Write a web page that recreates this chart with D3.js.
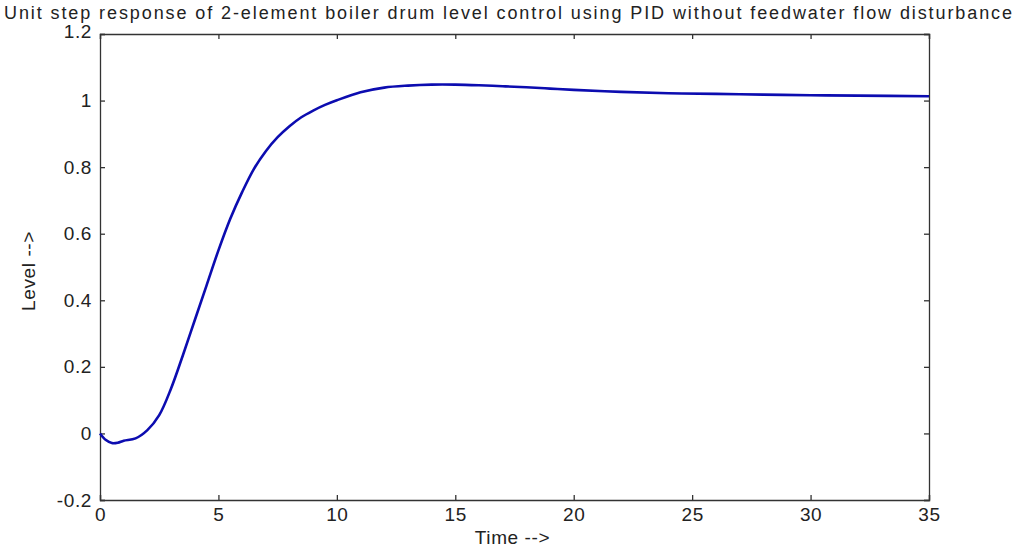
<!DOCTYPE html>
<html>
<head>
<meta charset="utf-8">
<script src="https://cdn.jsdelivr.net/npm/d3@7"></script>
<style>
  body { margin: 0; background: #fff; }
  text { font-family: "Liberation Sans", Arial, sans-serif; fill: #222; }
</style>
</head>
<body>
<div id="chart"></div>
<script>
(function() {
    let w = 1016,
        h = 548;

    let time  = [0, 0.25, 0.5, 0.75, 1, 1.5, 2, 2.5, 3, 3.5, 4, 4.5, 5, 5.5, 6, 6.5, 7, 7.5, 8, 8.5, 9, 9.5, 10, 11, 12, 13, 14, 15, 16, 17, 18, 19, 20, 22, 24, 26, 28, 30, 32, 35];
    let level = [0, -0.02, -0.029, -0.028, -0.022, -0.015, 0.01, 0.055, 0.135, 0.235, 0.34, 0.445, 0.55, 0.645, 0.725, 0.795, 0.848, 0.89, 0.923, 0.95, 0.97, 0.987, 1.001, 1.025, 1.039, 1.045, 1.048, 1.048, 1.046, 1.043, 1.04, 1.036, 1.032, 1.026, 1.022, 1.02, 1.018, 1.016, 1.015, 1.013];
    let xticks = [0, 5, 10, 15, 20, 25, 30, 35];
    let yticks = [-0.2, 0, 0.2, 0.4, 0.6, 0.8, 1, 1.2];

    let m = {left: 100, right: 1016 - 929, top: 34, bottom: 548 - 500};

    let svg = d3.select("#chart")
        .append("svg")
        .attr("width", w)
        .attr("height", h);

    let x = d3.scaleLinear().domain([0, 35]).range([m.left, w - m.right]);
    let y = d3.scaleLinear().domain([-0.2, 1.2]).range([h - m.bottom, m.top]);

    // plain hyphen for the minus sign, like the original
    let fmt = d => String(+d.toFixed(1));

    // axes: ticks point inward, mirrored on top/right
    let axes = [
        {axis: d3.axisBottom(x).tickValues(xticks).tickSize(-5).tickPadding(8).tickFormat(d => String(d)), t: `translate(0,${y(-0.2)})`},
        {axis: d3.axisTop(x).tickValues(xticks).tickSize(-5).tickFormat(""), t: `translate(0,${y(1.2)})`},
        {axis: d3.axisLeft(y).tickValues(yticks).tickSize(-5).tickPadding(8).tickFormat(fmt), t: `translate(${x(0)},0)`},
        {axis: d3.axisRight(y).tickValues(yticks).tickSize(-5).tickFormat(""), t: `translate(${x(35)},0)`}
    ];
    axes.forEach(a => {
        let g = svg.append("g").attr("transform", a.t).call(a.axis);
        g.select(".domain").attr("stroke", "#333").attr("stroke-width", 1.3);
        g.selectAll(".tick line").attr("stroke", "#333").attr("stroke-width", 1.3);
        g.selectAll(".tick text")
            .attr("font-size", 19)
            .attr("letter-spacing", 0.6)
            .attr("font-family", "Liberation Sans, Arial, sans-serif")
            .attr("fill", "#222");
    });

    // top label sits a little high so it clears the title
    svg.selectAll(".tick text").filter(d => d === 1.2).attr("dy", "0.2em");

    let line = d3.line()
        .x((d, i) => x(time[i]))
        .y(d => y(d))
        .curve(d3.curveCatmullRom.alpha(0.5));

    svg.append("path")
        .datum(level)
        .attr("d", line)
        .attr("fill", "none")
        .attr("stroke", "#0c0cb0")
        .attr("stroke-width", 2.6);

    svg.append("text")
        .attr("x", 4)
        .attr("y", 19)
        .attr("font-size", 18)
        .attr("textLength", 1008)
        .attr("lengthAdjust", "spacing")
        .text("Unit step response of 2-element boiler drum level control using PID without feedwater flow disturbance");

    svg.append("text")
        .attr("x", (x(0) + x(35)) / 2 - 2)
        .attr("y", 544)
        .attr("text-anchor", "middle")
        .attr("font-size", 19)
        .attr("letter-spacing", 0.6)
        .text("Time -->");

    svg.append("text")
        .attr("transform", `translate(35,${(y(-0.2) + y(1.2)) / 2 + 4}) rotate(-90)`)
        .attr("text-anchor", "middle")
        .attr("font-size", 19)
        .attr("letter-spacing", 0.6)
        .text("Level -->");
})();
</script>
</body>
</html>
